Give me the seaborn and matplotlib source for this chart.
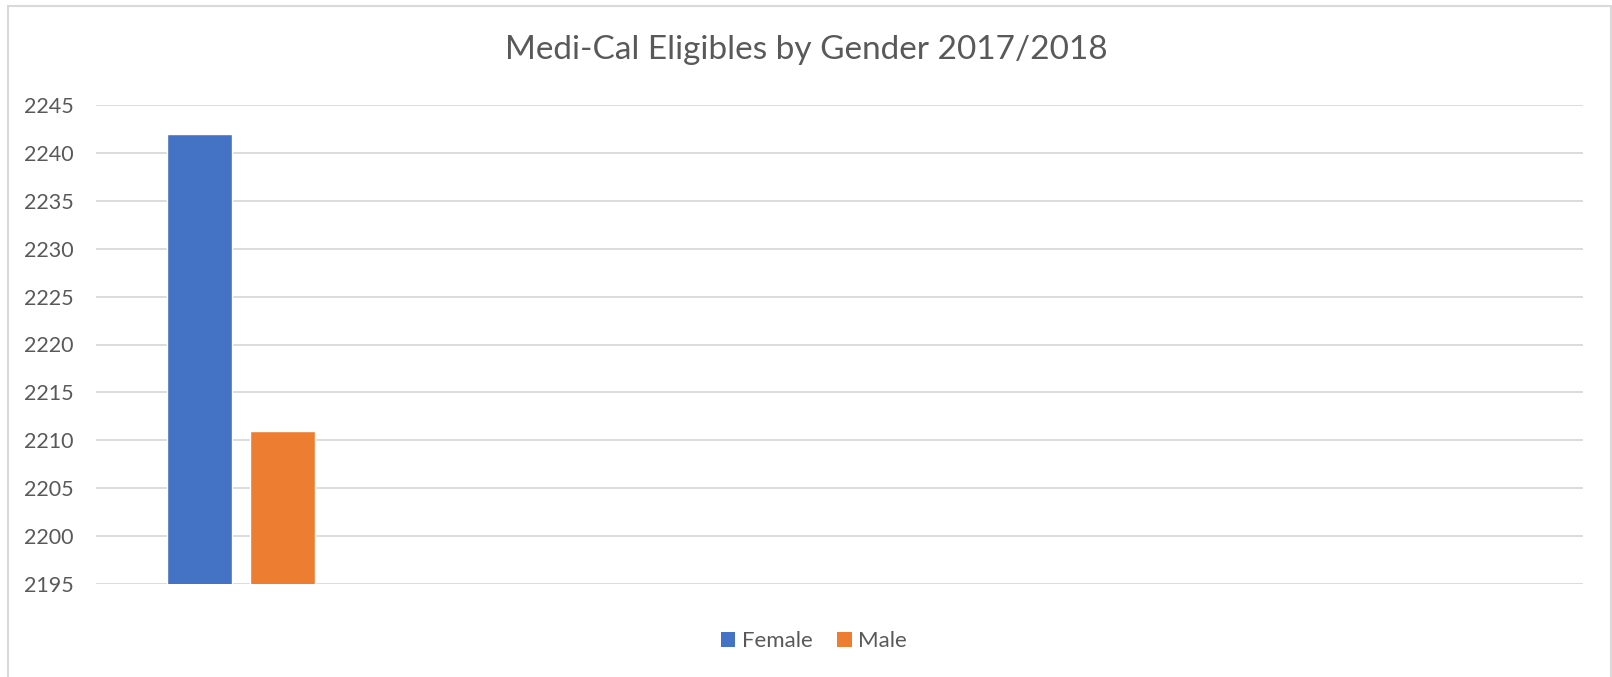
import matplotlib
matplotlib.use("Agg")
import matplotlib.pyplot as plt
from matplotlib.lines import Line2D
from matplotlib.patches import Patch
import seaborn as sns
import pandas as pd

# Data
categories = ["2017/2018"]
genders = ["Female", "Male"]
values = [2242, 2211]
yticks = [2195, 2200, 2205, 2210, 2215, 2220, 2225, 2230, 2235, 2240, 2245]

colors = {"Female": "#4472C4", "Male": "#ED7D31"}
text_color = "#595959"
grid_color = "#D9D9D9"

df = pd.DataFrame({"period": categories * len(genders), "gender": genders, "count": values})

sns.set_theme(style="white")
plt.rcParams["font.family"] = ["Lato", "DejaVu Sans"]

W, H = 1612, 677
fig = plt.figure(figsize=(W / 100, H / 100), dpi=100)
ax = fig.add_axes([96 / W, (H - 584) / H, (1583 - 96) / W, (584 - 105) / H])

sns.barplot(data=df, x="period", y="count", hue="gender", palette=colors,
            width=0.8, gap=0.217, ax=ax, legend=False, saturation=1)

ax.set_ylim(2195, 2245)
ax.set_xlim(-0.699, 6.468)
ax.set_yticks(yticks)
ax.set_yticklabels([str(t) for t in yticks], fontsize=15.5, color=text_color)
ax.set_xticks([])
ax.set_xlabel("")
ax.set_ylabel("")
ax.tick_params(axis="y", length=0, pad=16)
for s in ax.spines.values():
    s.set_visible(False)
ax.yaxis.grid(True, color=grid_color, linewidth=1.3)
ax.set_axisbelow(True)

fig.text(0.5, (H - 50) / H, "Medi-Cal Eligibles by Gender 2017/2018",
         ha="center", va="center", fontsize=24, color=text_color)

handles = [Patch(facecolor=colors[g], edgecolor="none", label=g) for g in genders]
fig.legend(handles=handles, loc="center", bbox_to_anchor=(814 / W, (H - 641) / H),
           ncol=2, frameon=False, fontsize=16, labelcolor=text_color,
           handlelength=0.65, handleheight=0.65, handletextpad=0.3, columnspacing=1.1)

# chart border
bc = "#D9D9D9"
fig.add_artist(Line2D([8 / W, 8 / W], [0, (H - 6) / H], color=bc, lw=1.5, transform=fig.transFigure))
fig.add_artist(Line2D([8 / W, 1611 / W], [(H - 6) / H, (H - 6) / H], color=bc, lw=1.5, transform=fig.transFigure))
fig.add_artist(Line2D([1611 / W, 1611 / W], [0, (H - 6) / H], color=bc, lw=1.5, transform=fig.transFigure))

fig.savefig("out.png", dpi=100, facecolor="white")
